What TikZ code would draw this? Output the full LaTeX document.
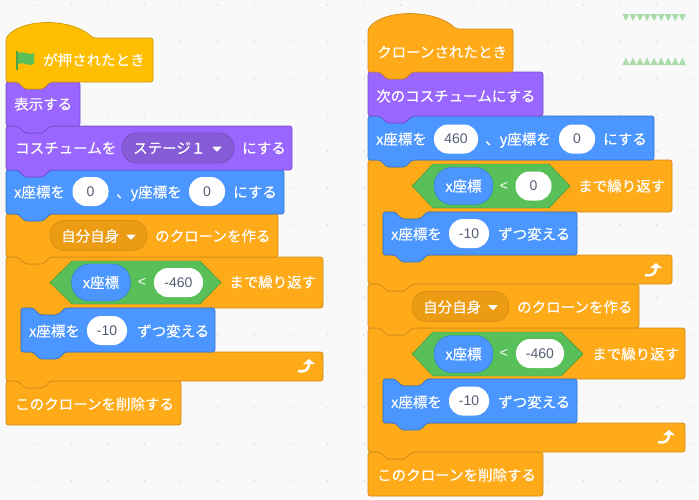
\documentclass[tikz,border=0pt]{standalone}
\usepackage{fontspec}
\setmainfont{Noto Sans CJK JP}[FakeBold=0.25]
\newfontfamily\numfont{Liberation Sans}
\definecolor{bgcol}{HTML}{F9F9F9}
\definecolor{dotcol}{HTML}{DDDDDD}
\definecolor{ctrl}{HTML}{FFAB19}
\definecolor{ctrlb}{HTML}{CF8B17}
\definecolor{ctrld}{HTML}{EC9C13}
\definecolor{evnt}{HTML}{FFBF00}
\definecolor{evntb}{HTML}{CC9900}
\definecolor{look}{HTML}{9966FF}
\definecolor{lookb}{HTML}{774DCB}
\definecolor{lookd}{HTML}{855CD6}
\definecolor{motn}{HTML}{4C97FF}
\definecolor{motnb}{HTML}{3373CC}
\definecolor{oper}{HTML}{59C059}
\definecolor{operb}{HTML}{389438}
\definecolor{numcol}{HTML}{575E75}
\definecolor{strip}{HTML}{A8DCA8}
% notch on top of a block, tab under it
\newcommand{\notchtop}[2]{(#1+12,#2) -- (#1+19,#2+7) -- (#1+37,#2+7) -- (#1+44,#2)}
\newcommand{\tabunder}[2]{(#1+44,#2) -- (#1+37,#2+7) -- (#1+19,#2+7) -- (#1+12,#2)}
\newcommand{\stackblk}[5]{\draw[blk, fill=#1, draw=#1b] (#2,#3) -- \notchtop{#2}{#3} -- (#4,#3) -- (#4,#5) -- \tabunder{#2}{#5} -- (#2,#5) -- cycle;}
\newcommand{\capblk}[4]{\draw[blk, fill=ctrl, draw=ctrlb] (#1,#2) -- \notchtop{#1}{#2} -- (#3,#2) -- (#3,#4) -- (#1,#4) -- cycle;}
\newcommand{\hatblk}[6]{\draw[blk, fill=#1, draw=#1b] (#2,#3) .. controls (#2+16,#3-20) and (#2+#6-21,#3-20) .. (#2+#6,#3) -- (#4,#3) -- (#4,#5) -- \tabunder{#2}{#5} -- (#2,#5) -- cycle;}
\newcommand{\loopblk}[6]{\draw[blk, fill=ctrl, draw=ctrlb] (#1,#2) -- \notchtop{#1}{#2} -- (#3,#2) -- (#3,#4) -- \tabunder{#1+15}{#4} -- (#1+15,#4) -- (#1+15,#5) -- (#3,#5) -- (#3,#6) -- \tabunder{#1}{#6} -- (#1,#6) -- cycle;}
\newcommand{\hexblk}[6]{\draw[fill=oper, draw=operb] (#1,#5) -- (#2,#4) -- (#3,#4) -- (#6,#5) -- (#3,2*#5-#4) -- (#2,2*#5-#4) -- cycle;}

\begin{document}
\begin{tikzpicture}[x=1pt, y=-1pt, font=\fontsize{14.5}{16}\selectfont]
    \tikzset{
        blk/.style={rounded corners=2.5pt, line width=0.7pt},
        lab/.style={text=white, inner sep=0pt, anchor=west, text height=12.5pt, text depth=1.5pt},
        inp/.style={fill=white, inner sep=0pt, rounded corners=14pt, minimum height=29pt, text=numcol, font=\numfont\fontsize{14}{16}\selectfont},
        var/.style={fill=motn, draw=motnb, inner sep=0pt, rounded corners=18pt, minimum width=59pt, minimum height=37pt, text=white},
        drop/.style={inner sep=0pt, rounded corners=14.5pt, minimum height=30pt, line width=0.7pt},
        lthan/.style={text=white, inner sep=0pt, font=\numfont\fontsize{14}{16}\selectfont}
    }
    \useasboundingbox (0,0) rectangle (699,499);
    \fill[bgcol] (0,0) rectangle (699,499);

    % dots of the work area
    \foreach \i in {0,...,19}
        \foreach \j in {0,...,13}
            \fill[dotcol] (-2+36.6*\i,5+36.6*\j) circle (0.9pt);

    % left stack, from the bottom up
    \capblk{6}{381}{181}{425}
    \loopblk{6}{257}{323}{308}{352}{381}
    \stackblk{motn}{21}{308}{215}{352}
    \stackblk{ctrl}{6}{214}{278}{257}
    \stackblk{motn}{6}{170}{284}{214}
    \stackblk{look}{6}{126}{292}{170}
    \stackblk{look}{6}{82}{80}{126}
    \hatblk{evnt}{6}{38}{153}{82}{87}

    % right stack, from the bottom up
    \capblk{368}{452}{543}{496}
    \loopblk{368}{328}{685}{379}{423}{452}
    \stackblk{motn}{383}{379}{577}{423}
    \stackblk{ctrl}{368}{284}{639}{328}
    \loopblk{368}{160}{672}{212}{255}{284}
    \stackblk{motn}{383}{212}{577}{255}
    \stackblk{motn}{368}{116}{654}{160}
    \stackblk{look}{368}{72}{543}{116}
    \hatblk{ctrl}{368}{29}{513}{72}{88}

    % green conditions
    \hexblk{50}{72}{200}{261}{282.5}{221}
    \hexblk{412}{433}{549}{164}{186}{570}
    \hexblk{412}{433}{561}{332}{354}{583}

    % rounded fields
    \foreach \nam/\px/\py/\wid/\val in {
            xa/90.5/191.5/36/0, ya/207/191.5/36/0, dx/107/330.5/40/-10, lim/178.5/282.5/49/-460,
            xb/456/139/44/460, yb/577/139/36/0, cmp/533.5/186/36/0, dy/469/233.5/40/-10,
            limb/540/353.5/48/-460, dz/469/401/40/-10
    } {
        \node[inp, minimum width=\wid pt] (\nam) at (\px,\py) {\val};
    }
    \foreach \nam/\px/\py in {posa/101/282.5, posb/463.5/186, posc/463.5/354}
        \node[var] (\nam) at (\px,\py) {x座標};
    \foreach \nam/\px/\py in {lta/142/282, ltb/504/186, ltc/504/353.5}
        \node[lthan] (\nam) at (\px,\py) {<};

    % menus
    \node[drop, fill=lookd, draw=lookb, minimum width=112pt] (cosm) at (178,148) {};
    \foreach \nam/\px/\py in {mena/98.5/235.5, menb/460.5/306.5}
        \node[drop, fill=ctrld, draw=ctrlb!80!ctrld, minimum width=97pt] (\nam) at (\px,\py) {};
    \foreach \px/\py in {217/149, 131/237, 493/307.5}
        \fill[white, rounded corners=0.8pt] (\px-5,\py-2.5) -- (\px+5,\py-2.5) -- (\px,\py+3) -- cycle;

    % texts of the blocks
    \foreach \nam/\px/\py/\txt in {
            ta/43/60/が押されたとき, tb/14/104/表示する, tc/15/148/コスチュームを, td/133/148/ステージ１,
            te/242/148/にする, tf/14/192/x座標を, tg/116/192/、y座標を, th/233/192/にする,
            ti/61/236/自分自身, tj/155/236/のクローンを作る, tk/229/282/まで繰り返す,
            tl/29/331/x座標を, tm/137/331/ずつ変える, tn/15/404/このクローンを削除する,
            ua/377/52/クローンされたとき, ub/376/96/次のコスチュームにする, uc/376/139/x座標を,
            ud/485/139/、y座標を, ue/603/139/にする, uf/578/186/まで繰り返す, ug/391/234/x座標を,
            uh/498/234/ずつ変える, ui/423/307/自分自身, uj/517/307/のクローンを作る,
            uk/592/354/まで繰り返す, ul/391/402/x座標を, um/498/402/ずつ変える, un/377/475/このクローンを削除する
    } {
        \node[lab] (\nam) at (\px,\py) {\txt};
    }

    % green flag
    \fill[oper!85!black] (16,51) rectangle (18,70);
    \fill[oper] (18,53) .. controls (23,50) and (27,56) .. (34,53) -- (34,64) .. controls (27,67) and (23,61) .. (18,64) -- cycle;

    % repeat arrows
    \foreach \px/\py in {306/367, 653/271, 666/438} {
        \draw[white, line width=2.5pt] (\px-8,\py+4) .. controls (\px-1,\py+6) and (\px+3,\py+2) .. (\px+3,\py-3);
        \fill[white] (\px-3,\py-3) -- (\px+3,\py-8) -- (\px+9,\py-3) -- cycle;
    }

    % green strips
    \foreach \i in {0,...,8} {
        \fill[strip] (622.3+7.07*\i,14) -- (629.37+7.07*\i,14) -- (625.83+7.07*\i,21) -- cycle;
        \fill[strip] (622.3+7.07*\i,65) -- (629.37+7.07*\i,65) -- (625.83+7.07*\i,57.5) -- cycle;
    }
\end{tikzpicture}
\end{document}
